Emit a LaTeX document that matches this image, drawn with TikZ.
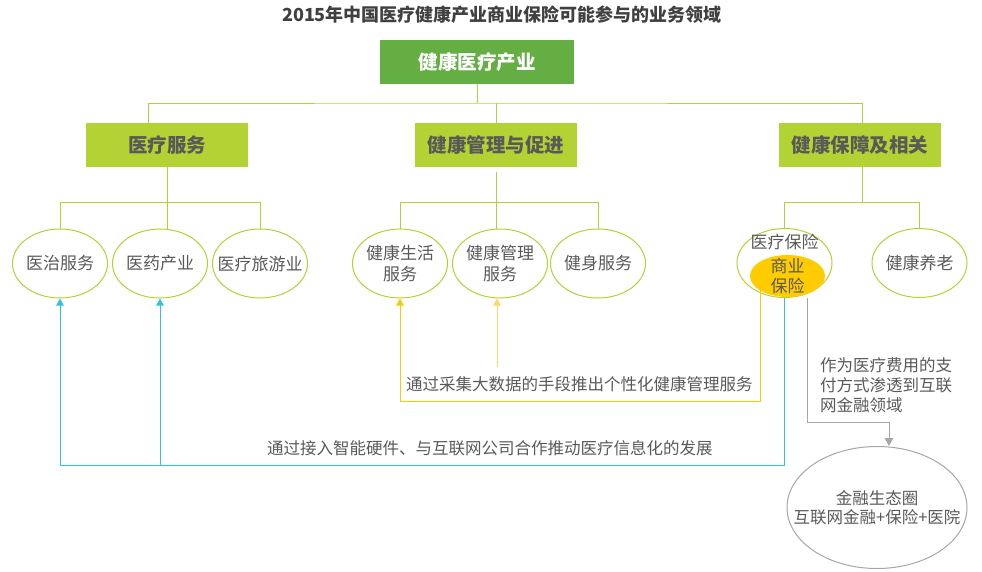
\documentclass[tikz,border=0pt]{standalone}
\usepackage{fontspec}
\setmainfont{Noto Sans CJK SC}
\usepackage{xcolor}
\usepackage{tikz}
\usetikzlibrary{shapes.geometric,arrows.meta,positioning,calc}

\definecolor{rootgreen}{HTML}{64AE44}
\definecolor{catgreen}{HTML}{B3D234}
\definecolor{txtgray}{HTML}{595959}
\definecolor{ttlgray}{HTML}{404040}
\definecolor{lineyel}{HTML}{FFC800}
\definecolor{paleyel}{HTML}{FFD966}
\definecolor{bizyel}{HTML}{FFCC00}
\definecolor{lineblue}{HTML}{33C1EC}
\definecolor{linegray}{HTML}{A6A6A6}

\tikzset{
  rootbox/.style={fill=rootgreen,minimum width=194pt,minimum height=44pt,text=white,
    font=\bfseries\fontsize{19.5}{22}\selectfont},
  catbox/.style={fill=catgreen,minimum width=162pt,minimum height=44pt,text=txtgray,
    font=\bfseries\fontsize{19.5}{22}\selectfont},
  leaftext/.style={inner sep=0pt,align=center,text=txtgray,font=\fontsize{17}{21.5}\selectfont},
  leaf/.style={ellipse,draw=catgreen,line width=1pt,minimum width=95pt,minimum height=69pt,
    inner sep=0pt,label={[leaftext]center:{#1}}},
  tree/.style={draw=catgreen,line width=1pt},
  note/.style={text=txtgray,inner sep=0pt,font=\fontsize{16.5}{20}\selectfont},
  tip/.style={-{Triangle[width=7.5pt,length=7pt]}}
}

\begin{document}
\begin{tikzpicture}[x=1pt,y=-1pt]
  \useasboundingbox (0,0) rectangle (982,571);
  % Title
  \node[text=ttlgray,font=\bfseries\fontsize{18}{20}\selectfont] (title) at (502,15)
    {2015年中国医疗健康产业商业保险可能参与的业务领域};
  % Root and categories
  \node[rootbox] (root) at (477,62) {健康医疗产业};
  \node[catbox] (med)  at (167,145) {医疗服务};
  \node[catbox] (mgmt) at (496,145) {健康管理与促进};
  \node[catbox] (prot) at (860,145) {健康保障及相关};
  % Leaves
  \node[leaf={医治服务}] (treat) at (60,263.5) {};
  \node[leaf={医药产业}] (pharm) at (160,263.5) {};
  \node[leaf={医疗旅游业}] (tour) at (260,263.5) {};
  \node[leaf={健康生活\\服务}] (life) at (400,263.5) {};
  \node[leaf={健康管理\\服务}] (hmgmt) at (500,263.5) {};
  \node[leaf={健身服务}] (fit) at (598,263.5) {};
  \node[leaf={}] (ins) at (784.5,263) {};
  \node[note,font=\fontsize{17}{20}\selectfont] (insname) at (784.5,242) {医疗保险};
  \node[ellipse,fill=bizyel,minimum width=75pt,minimum height=42pt,inner sep=0pt,
    label={[leaftext,font=\fontsize{17}{20}\selectfont]center:{商业\\保险}}] (biz) at (787.5,276) {};
  \node[leaf={健康养老}] (care) at (919.5,263) {};
  \node[ellipse,draw=linegray,line width=1pt,minimum width=180pt,minimum height=122pt,
    inner sep=0pt,label={[leaftext,font=\fontsize{16.5}{19}\selectfont]center:{金融生态圈\\互联网金融+保险+医院}}]
    (fin) at (877,507.5) {};
  % Tree lines
  \coordinate (bus) at (477,103);
  \draw[tree] (root) -- (bus);
  \draw[tree] ([xshift=-19pt]med.north) |- (bus) -| ([xshift=2pt]prot.north);
  \draw[tree] (bus -| mgmt.north) -- (mgmt.north);
  \draw[tree] (treat.north) -- ++(0,-26) -| (tour.north);
  \draw[tree] (med.south) -- (med.south |- pharm.north);
  \draw[tree] (life.north) -- ++(0,-26) -| (fit.north);
  \draw[tree] ([yshift=-5pt]mgmt.south) -- (mgmt.south |- hmgmt.north);
  \draw[tree] (ins.north) -- ++(0,-26) -| (care.north);
  \draw[tree] ([xshift=2pt]prot.south) -- ++(0,36);
  % Yellow arrows
  \coordinate (ytop) at (497,367);
  \draw[lineyel,line width=1pt,tip] ([xshift=-27.5pt,yshift=7pt]biz.south) -- ++(0,111) -| (life.south);
  \draw[paleyel,line width=1pt,tip] (ytop) -- (ytop |- hmgmt.south);
  \node[note,anchor=west] (ylabel) at (406,384) {通过采集大数据的手段推出个性化健康管理服务};
  % Blue arrows
  \coordinate (bluebus) at (0,465);
  \draw[lineblue,line width=1pt,tip] (ins.south) -- (ins.south |- bluebus) -| (treat.south);
  \draw[lineblue,line width=1pt,tip] (pharm.south |- bluebus) -- (pharm.south);
  \node[note,anchor=west] (blabel) at (267,448) {通过接入智能硬件、与互联网公司合作推动医疗信息化的发展};
  % Gray arrow
  \draw[linegray,line width=1pt,-{Triangle[width=8.5pt,length=8pt]}] ([xshift=22.5pt]ins.south) -- ++(0,124) -| ([xshift=12pt]fin.north);
  \node[note,anchor=north west,align=left] (glabel) at (820,357)
    {作为医疗费用的支\\付方式渗透到互联\\网金融领域};
\end{tikzpicture}
\end{document}
